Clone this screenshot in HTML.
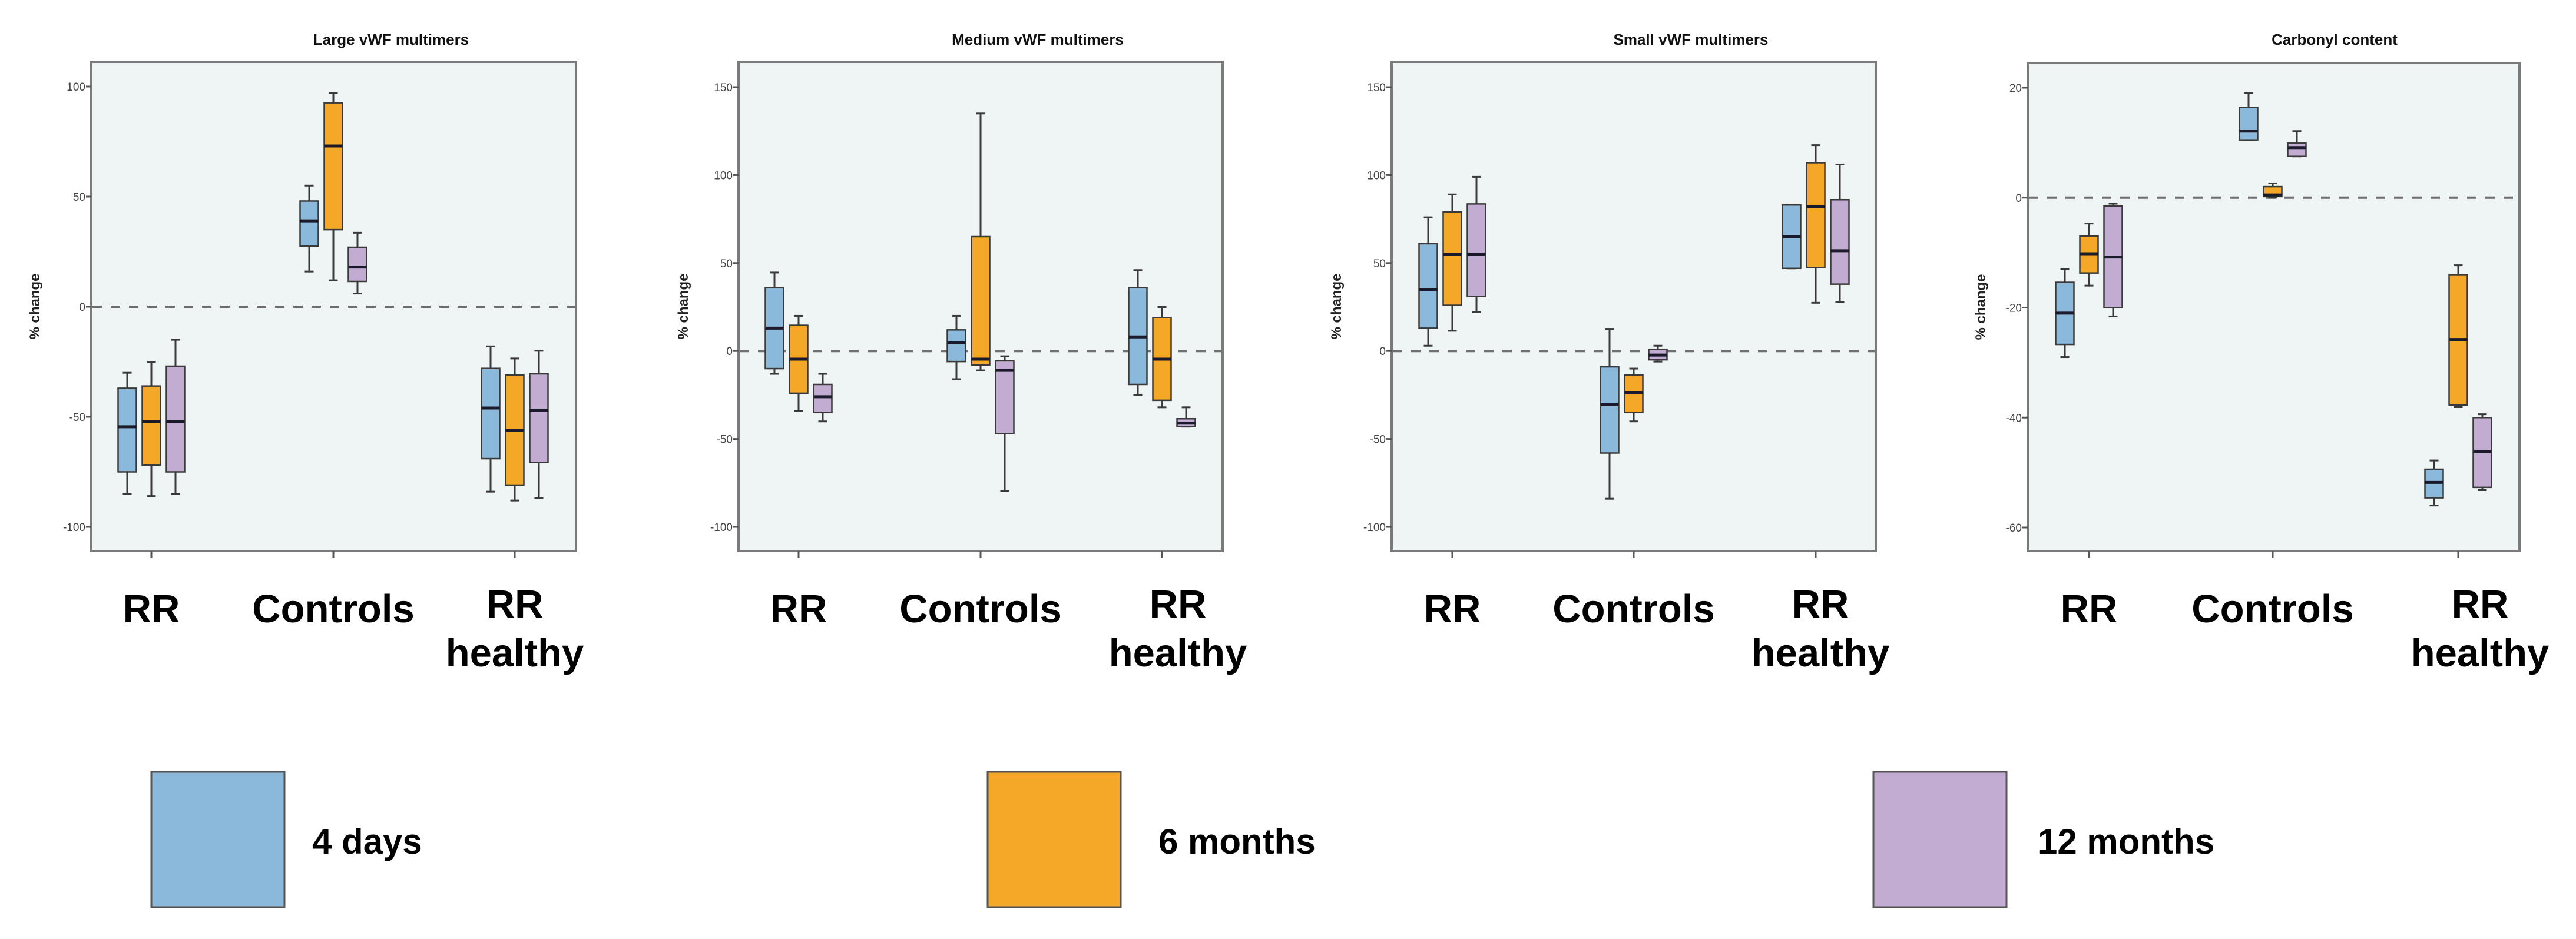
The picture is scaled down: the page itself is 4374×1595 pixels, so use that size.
<!DOCTYPE html>
<html><head><meta charset="utf-8"><style>
html,body{margin:0;padding:0;background:#fff;}
svg{display:block;font-family:"Liberation Sans",Arial,sans-serif;}
</style></head><body>
<svg id="chart" width="4374" height="1595" viewBox="0 0 4374 1595" xmlns="http://www.w3.org/2000/svg"></svg>
<script>
// ---------- data ----------
const categories = ["RR", "Controls", "RR healthy"];
const seriesNames = ["4 days", "6 months", "12 months"];
const panelTitles = ["Large vWF multimers", "Medium vWF multimers", "Small vWF multimers", "Carbonyl content"];
const tickLabelsP1 = [100, 50, 0, -50, -100];
const tickLabelsP2 = [150, 100, 50, 0, -50, -100];
const tickLabelsP3 = [150, 100, 50, 0, -50, -100];
const tickLabelsP4 = [20, 0, -20, -40, -60];
// each box: [whiskerLow, q1, median, q3, whiskerHigh]; order: category x series
const largeVWF = [
  [[-85,-75,-54.5,-37,-30],[-86,-72,-52,-36,-25],[-85,-75,-52,-27,-15]],
  [[16,27.5,39,48,55],[12,35,73,92.6,97],[6,11.5,18,27,33.6]],
  [[-84,-69,-46,-28,-18],[-88,-81,-56,-31,-23.5],[-87,-70.7,-47,-30.5,-20]]
];
const mediumVWF = [
  [[-13,-10,13,36,44.6],[-34,-24,-4.6,14.6,20],[-40,-35,-26,-19,-13]],
  [[-16,-6,4.6,12,20],[-11,-8,-4.6,65,135],[-79.5,-47,-11,-5.6,-3]],
  [[-25,-19,8,36,46],[-32,-28,-4.6,19,25],[-43,-43,-41,-38.5,-32]]
];
const smallVWF = [
  [[3,13,35,61,76],[11.5,26,55,79,89],[22,31,55,83.6,99]],
  [[-84,-58,-30.5,-9,12.6],[-40,-35,-23.6,-13.6,-10],[-6,-5,-2.3,1,3]],
  [[47,47,65,83,83],[27.4,47.4,82,107,117],[28,38,57,86,106]]
];
const carbonyl = [
  [[-29,-26.7,-21,-15.4,-13],[-16,-13.7,-10.2,-7,-4.7],[-21.6,-20,-10.8,-1.5,-1.1]],
  [[10.5,10.5,12.1,16.4,19],[0,0.2,0.5,2,2.6],[7.5,7.5,9.1,9.9,12.1]],
  [[-56,-54.6,-51.8,-49.4,-47.8],[-38.1,-37.7,-25.8,-14,-12.3],[-53.2,-52.7,-46.2,-40,-39.4]]
];
const panelData = [largeVWF, mediumVWF, smallVWF, carbonyl];
const panelTicks = [tickLabelsP1, tickLabelsP2, tickLabelsP3, tickLabelsP4];

// ---------- layout ----------
const colors = ["#8ab9dc", "#f5a828", "#c3acd2"];
const panels = [
  {x0:155, x1:978, y0:105, y1:936, tTop:147, tBot:895, cats:[257,566,874], titleX:664, ylabX:67, hx:874},
  {x0:1254, x1:2076, y0:105, y1:936, tTop:148, tBot:895, cats:[1356,1665,1973], titleX:1762, ylabX:1168, hx:2000},
  {x0:2363, x1:3185, y0:105, y1:936, tTop:148, tBot:895, cats:[2466,2774,3083], titleX:2871, ylabX:2277, hx:3091},
  {x0:3443, x1:4278, y0:107, y1:936, tTop:149, tBot:896, cats:[3547,3859,4174], titleX:3964, ylabX:3371, hx:4211}
];
const NS = "http://www.w3.org/2000/svg";
const svg = document.getElementById("chart");
function mk(tag, attrs, parent){
  const e = document.createElementNS(NS, tag);
  for (const k in attrs) e.setAttribute(k, attrs[k]);
  (parent||svg).appendChild(e);
  return e;
}

panels.forEach((p, pi) => {
  const ticks = panelTicks[pi];
  const tMax = ticks[0], tMin = ticks[ticks.length-1];
  const y = v => p.tTop + (tMax - v) / (tMax - tMin) * (p.tBot - p.tTop);
  const g = mk("g", {});
  
  

  const bg = mk("rect", {x:p.x0, y:p.y0, width:p.x1-p.x0, height:p.y1-p.y0, fill:"#eff4f5", stroke:"#7a7a7a", "stroke-width":4}, g);
  
  

  const t = mk("text", {x:p.titleX, y:76, "text-anchor":"middle", "font-size":26, "font-weight":"bold", fill:"#111"}, g);
  t.textContent = panelTitles[pi];
  
  

  const yl = mk("text", {x:0, y:0, transform:`translate(${p.ylabX},${(p.y0+p.y1)/2}) rotate(-90)`, "text-anchor":"middle", "font-size":24, "font-weight":"bold", fill:"#222"}, g);
  yl.textContent = "% change";
  
  

  ticks.forEach(tv => {
    const ty = y(tv);
    const tl = mk("line", {x1:p.x0-9, x2:p.x0, y1:ty, y2:ty, stroke:"#555", "stroke-width":3}, g);
    
    
    const tx = mk("text", {x:p.x0-10, y:ty+7, "text-anchor":"end", "font-size":19, fill:"#444"}, g);
    tx.textContent = tv;
    
    
  });

  const zl = mk("line", {x1:p.x0+2, x2:p.x1-2, y1:y(0), y2:y(0), stroke:"#6e6e6e", "stroke-width":4, "stroke-dasharray":"16 15"}, g);
  
  

  p.cats.forEach((cx, ci) => {
    const ct = mk("line", {x1:cx, x2:cx, y1:p.y1, y2:p.y1+12, stroke:"#555", "stroke-width":3}, g);
    
    
    if (ci < 2) {
      const cl = mk("text", {x:cx, y:1057, "text-anchor":"middle", "font-size":67, "font-weight":"bold", fill:"#000"}, g);
      cl.textContent = categories[ci];
      
      
    } else {
      const parts = categories[ci].split(" ");
      const cl = mk("text", {x:p.hx, y:1049, "text-anchor":"middle", "font-size":67, "font-weight":"bold", fill:"#000"}, g);
      
      
      const s1 = mk("tspan", {x:p.hx, y:1049}, cl); s1.textContent = parts[0];
      const s2 = mk("tspan", {x:p.hx, y:1132}, cl); s2.textContent = parts[1];
    }
    panelData[pi][ci].forEach((b, si) => {
      const bx = cx + (si-1)*41;
      const bw = 31, cw = 15;
      const bg2 = mk("g", {}, g);
      
      
      const st = {stroke:"#3a3a3a", "stroke-width":3};
      mk("line", Object.assign({x1:bx, x2:bx, y1:y(b[4]), y2:y(b[3])}, st), bg2);
      mk("line", Object.assign({x1:bx, x2:bx, y1:y(b[1]), y2:y(b[0])}, st), bg2);
      mk("line", Object.assign({x1:bx-cw/2, x2:bx+cw/2, y1:y(b[4]), y2:y(b[4])}, st), bg2);
      mk("line", Object.assign({x1:bx-cw/2, x2:bx+cw/2, y1:y(b[0]), y2:y(b[0])}, st), bg2);
      mk("rect", {x:bx-bw/2, y:y(b[3]), width:bw, height:Math.max(2, y(b[1])-y(b[3])), fill:colors[si], stroke:"#3a3a3a", "stroke-width":2.5}, bg2);
      mk("line", {x1:bx-bw/2, x2:bx+bw/2, y1:y(b[2]), y2:y(b[2]), stroke:"#1a1a2a", "stroke-width":5}, bg2);
    });
  });
});

// ---------- legend ----------
const legendX = [257, 1677, 3181];
const legendLabelX = [530, 1967, 3460];
seriesNames.forEach((n, i) => {
  const lg = mk("g", {});
  
  
  mk("rect", {x:legendX[i], y:1311, width:226, height:230, fill:colors[i], stroke:"#555", "stroke-width":3}, lg);
  const lt = mk("text", {x:legendLabelX[i], y:1450, "font-size":60, "font-weight":"bold", fill:"#000"}, lg);
  lt.textContent = n;
});
</script>
</body></html>
